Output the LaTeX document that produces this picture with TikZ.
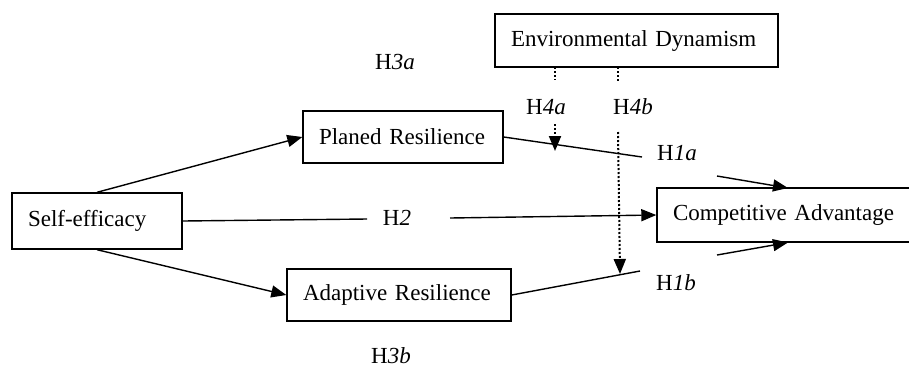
\documentclass[tikz,border=0pt]{standalone}
\usepackage{fontspec}
\setmainfont{Liberation Serif}
\usetikzlibrary{arrows.meta}
\begin{document}
\begin{tikzpicture}[x=1pt,y=-1pt,
  font=\fontsize{23}{27}\selectfont,
  line width=1.4pt,
  box/.style={draw, rectangle, inner xsep=16pt, inner ysep=0pt, align=left, minimum height=#1},
  box/.default=52pt,
  lbl/.style={inner sep=0pt},
  arr/.style={-{Triangle[length=15pt,width=12pt]}},
  dots/.style={dash pattern=on 2pt off 2pt, line width=2pt},
  darr/.style={dots,-{Triangle[length=15pt,width=12pt]}}
]
\useasboundingbox (0,0) rectangle (909,373);

% boxes
\node[box=53pt, text width=251pt] (env)   at (636.5,40.5) {Environmental Dynamism};
\node[box=52pt, text width=168pt] (plan)  at (403,137)    {Planed Resilience};
\node[box=56pt, text width=138pt] (self)  at (97,221)     {Self-efficacy};
\node[box=52pt, text width=192pt] (adapt) at (399,295)    {Adaptive Resilience};
\node[box=54pt, text width=221pt] (comp)  at (783.5,215)  {Competitive Advantage};

% labels
\node[lbl] (h3a) at (395,62)  {H\textit{3a}};
\node[lbl] (h3b) at (391,356) {H\textit{3b}};
\node[lbl] (h2)  at (397,218) {H\textit{2}};
\node[lbl] (h1a) at (677,153) {H\textit{1a}};
\node[lbl] (h1b) at (676,283) {H\textit{1b}};
\node[lbl] (h4a) at (546,107) {H\textit{4a}};
\node[lbl] (h4b) at (633,107) {H\textit{4b}};

% coordinates for broken connectors
\coordinate (h2l) at (367,219);
\coordinate (h2r) at (450,218);
\coordinate (h1al) at (642,157);
\coordinate (h1ar) at (717,176);
\coordinate (h1bl) at (640,271);
\coordinate (h1br) at (717,255);
\coordinate (ctop) at (788,188);
\coordinate (cbot) at (788,242.5);
\coordinate (d1a) at (555,67);
\coordinate (d1b) at (555,80);
\coordinate (d1c) at (555,124);
\coordinate (d1d) at (555,151);
\coordinate (d2a) at (618,67);
\coordinate (d2b) at (618,81);
\coordinate (d2c) at (618,132);
\coordinate (d2d) at (620,274);

% connectors
\draw[arr] (self.north) -- (plan.west);
\draw[arr] (self.south) -- (adapt.west);
\draw (self.east) -- (h2l);
\draw[arr] (h2r) -- (comp.west);
\draw (plan.east) -- (h1al);
\draw[arr] (h1ar) -- (ctop);
\draw (adapt.east) -- (h1bl);
\draw[arr] (h1br) -- (cbot);

% moderation (dotted)
\draw[dots] (d1a) -- (d1b);
\draw[darr] (d1c) -- (d1d);
\draw[dots] (d2a) -- (d2b);
\draw[darr] (d2c) -- (d2d);
\end{tikzpicture}
\end{document}
